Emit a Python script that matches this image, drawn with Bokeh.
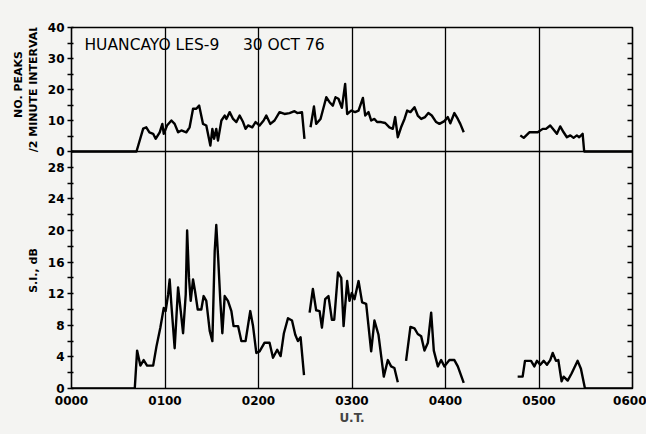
import math
from bokeh.plotting import figure
from bokeh.layouts import row
from bokeh.models import (Range1d, LinearAxis, FixedTicker, Label, Span,
                          CustomJSTickFormatter, AllLabels)
from bokeh.embed import file_html
from bokeh.resources import INLINE

# ---------------- data (time in minutes after 0000 UT) ----------------
# Top panel: number of peaks per 2 minute interval
peaks_t1 = [0, 41.7, 46, 48, 50, 52.4, 54, 56.6, 58.3, 59.2, 61.3, 64.1, 66.2, 68.4, 70.5,
            73.7, 75.8, 78, 80.1, 81.9, 84.4, 86.5, 89.1, 90.4, 91.5, 92.9, 94, 96.2, 98.3,
            99.4, 101.5, 103.7, 105.8, 107.9, 110.1, 111.7, 113.3, 116, 118.1, 120.7, 123.3,
            125, 127.6, 130.3, 133.5, 136.7, 139.9, 143.1, 144.9, 147.9, 149.5]
peaks_v1 = [0, 0, 7.4, 7.8, 6.2, 5.7, 4.1, 6.2, 8.9, 5.7, 8.4, 10, 8.9, 6.2, 6.8,
            6.2, 7.8, 13.8, 13.8, 14.8, 8.9, 8.4, 1.9, 7.3, 4.1, 7.3, 3.5, 10, 11.6,
            10.5, 12.7, 10.5, 9.5, 11.6, 9.5, 7.3, 8.4, 7.8, 9.5, 8.4, 10,
            11.6, 8.9, 10, 12.7, 12.1, 12.4, 13, 12.4, 12.7, 4.1]
peaks_t2 = [153.4, 155.6, 157, 159.8, 162.4, 163.5, 165.6, 167.7, 169.4, 171.3, 173.5, 175.6,
            176.9, 179.5, 182, 184.2, 187, 188.5, 190.6, 192.3, 194.4, 196.1, 198.7, 201.3,
            204, 206.2, 207.7, 209.4, 211.5, 213.7, 215.4, 217.5, 220.1, 222.2, 224.4, 226.9,
            229, 231.2, 234, 236.1, 239.3, 241.5, 243.1, 245.7, 247.9, 249.5, 251.7]
peaks_v2 = [7.8, 14.5, 8.9, 10.5, 15.4, 17.5, 15.9, 14.8, 17.5, 17, 14.1, 21.8,
            12.1, 13.2, 12.7, 13.2, 17.3, 11.6, 12.7, 10, 10.5, 9.5, 9.5, 9.2,
            7.8, 7.3, 11.1, 4.6, 7.8, 10.5, 13.2, 12.7, 14.3, 11.6, 10.5, 11.1,
            12.4, 11.6, 9.5, 8.9, 9.8, 11.1, 9.1, 12.4, 10.5, 8.9, 6.2]
peaks_t3 = [288, 290.2, 293.8, 299.2, 302.4, 304.5, 307.2, 309.8, 311.5, 313.6, 315.8, 317.9,
            320.1, 322.2, 324.3, 325.8, 328, 329, 360]
peaks_v3 = [5.2, 4.4, 6.2, 6.2, 7.3, 7.3, 8.4, 6.8, 5.7, 8.1, 6.2, 4.6,
            5.2, 4.4, 5.2, 4.6, 5.7, 0, 0]

# Bottom panel: S.I., dB
si_t1 = [0, 40.6, 42.1, 44.2, 46.3, 48.5, 52.4, 54.5, 57, 59.2, 60.4, 62, 63, 64.1, 66.2,
         68.4, 70.1, 71.6, 73.3, 74.2, 75.4, 76.5, 78, 79.3, 81, 83.3, 84.8, 86.5, 88.7,
         90.4, 91.9, 92.9, 94.2, 95.5, 96.8, 98.3, 100.4, 102.6, 104, 106.9, 109, 111.7,
         114.7, 116.5, 118.6, 120.7, 123.9, 127.1, 129.3, 132, 134.2, 136.3, 138.9, 141.5,
         143.6, 145.3, 147, 149.2]
si_v1 = [0, 0, 4.8, 2.9, 3.6, 2.9, 2.9, 5.3, 7.7, 10.2, 9.8, 11.9, 13.8, 10.6, 5.1,
         12.8, 9.8, 7.0, 11.9, 20, 14, 11.1, 13.8, 12.3, 10, 10, 11.7, 11.1, 7.3,
         6.0, 17.4, 20.7, 16.2, 11.1, 7.0, 11.7, 11.1, 9.8, 7.9, 7.9, 6.0, 6.0,
         9.8, 7.9, 4.5, 4.7, 5.8, 5.8, 3.9, 4.9, 4.1, 7.0, 8.9, 8.6,
         6.8, 6.0, 6.5, 1.7]
si_t2 = [152.8, 154.9, 157, 159.2, 160.7, 162.8, 164.9, 167.1, 168.6, 171, 173.1, 174.6,
         176.9, 178.4, 179.9, 181.6, 184.2, 186.5, 189.1, 192.3, 194.4, 197, 200.4, 203,
         205.1, 207.2, 209.4]
si_v2 = [9.6, 12.6, 9.9, 9.8, 7.7, 11.3, 11.7, 8.7, 8.7, 14.7, 14.0, 7.9,
         13.6, 11.1, 12.1, 11.3, 13.6, 10.9, 10.7, 4.7, 8.6, 6.8, 1.5, 3.6,
         2.8, 2.6, 0.8]
si_t3 = [214.7, 217.5, 220.1, 222.2, 224.4, 226.5, 228.7, 230.8, 232.5, 235.1, 237.2, 239.3,
         242.5, 245.7, 247.9, 251.7]
si_v3 = [3.5, 7.8, 7.6, 6.9, 6.6, 4.8, 5.8, 9.6, 4.8, 2.8, 3.6, 2.8,
         3.6, 3.6, 2.8, 0.7]
si_t4 = [286.3, 289.5, 291, 294.9, 297, 298.7, 300.8, 303, 305.1, 307.2, 308.8, 310.9,
         312.4, 314.5, 315.8, 318.4, 320.9, 324.8, 326.9, 329.5, 360]
si_v4 = [1.5, 1.5, 3.5, 3.5, 2.8, 3.5, 3.0, 3.5, 3.0, 3.6, 4.5, 3.5,
         3.6, 0.9, 1.5, 1.0, 1.9, 3.5, 2.5, 0, 0]

# axes / labels
x_ticks = [0, 60, 120, 180, 240, 300, 360]
x_tick_labels = ["0000", "0100", "0200", "0300", "0400", "0500", "0600"]
si_major = [0, 4, 8, 12, 16, 20, 24, 28]
si_minor = [2, 6, 10, 14, 18, 22, 26]
peaks_major = [0, 10, 20, 30, 40]
peaks_minor = [5, 15, 25, 35]
SI_MAX = 30
PEAKS_MAX = 40
top_ylabel_1 = "NO. PEAKS"
top_ylabel_2 = "/2 MINUTE INTERVAL"
bottom_ylabel = "S.I., dB"

# ---------------- layout ----------------
W, H = 646, 434
STRIP = 44    # width of the strip holding the rotated axis titles
B_TOP, B_BOT = 27, 46
H_TOP = 124   # px of upper panel
H_BOT = 237   # px of lower panel
Y_TOP = SI_MAX * (H_TOP + H_BOT) / H_BOT
k = (Y_TOP - SI_MAX) / PEAKS_MAX
PEAKS_LOW = PEAKS_MAX - PEAKS_MAX * (H_TOP + H_BOT) / H_TOP

BG = "#f4f4f2"
FONT = "DejaVu Sans"

p = figure(width=W - STRIP, height=H, output_backend="svg", toolbar_location=None,
           x_range=Range1d(0, 360), y_range=Range1d(0, Y_TOP),
           min_border_left=70 - STRIP, min_border_right=14, min_border_top=B_TOP,
           min_border_bottom=B_BOT)
p.extra_y_ranges = {"peaks": Range1d(PEAKS_LOW, PEAKS_MAX)}
p.background_fill_color = BG
p.border_fill_color = BG
p.outline_line_color = "black"
p.outline_line_width = 1.6

# x axis
p.xaxis.ticker = FixedTicker(ticks=x_ticks)
p.xaxis.major_label_overrides = dict(zip(x_ticks, x_tick_labels))
p.xaxis.major_tick_line_color = None
p.xaxis.minor_tick_line_color = None
p.xaxis.axis_line_color = None
p.xaxis.major_label_standoff = 1
p.xaxis.major_label_text_font = FONT
p.xaxis.major_label_text_font_style = "bold"
p.xaxis.major_label_text_font_size = "12px"
p.xaxis.major_label_text_color = "black"
p.xaxis.axis_label = "U.T."
p.xaxis.axis_label_text_font = FONT
p.xaxis.axis_label_text_font_style = "bold"
p.xaxis.axis_label_text_font_size = "12px"
p.xaxis.axis_label_standoff = 3

# left axis: lower panel ticks + upper panel ticks mapped
left_major = si_major + [SI_MAX + v * k for v in peaks_major]
left_minor = si_minor + [SI_MAX + v * k for v in peaks_minor]
p.yaxis.ticker = FixedTicker(ticks=left_major, minor_ticks=left_minor)
p.yaxis.formatter = CustomJSTickFormatter(
    args=dict(smax=SI_MAX, k=k),
    code="if (tick < smax - 0.5) { return String(Math.round(tick)); } "
         "return String(Math.round((tick - smax) / k));")
p.yaxis.major_label_policy = AllLabels()
p.yaxis.axis_line_color = None
p.yaxis.major_tick_in = 2
p.yaxis.major_tick_out = 4
p.yaxis.minor_tick_in = 2
p.yaxis.minor_tick_out = 4
p.yaxis.major_tick_line_width = 1.3
p.yaxis.minor_tick_line_width = 1.3
p.yaxis.major_label_standoff = 3
p.yaxis.major_label_text_font = FONT
p.yaxis.major_label_text_font_style = "bold"
p.yaxis.major_label_text_font_size = "12px"
p.yaxis.major_label_text_color = "black"

# right axis: inward ticks only
right_ticks = [v for v in range(2, 29, 2)] + [SI_MAX + v * k for v in range(5, 36, 5)]
ra = LinearAxis(ticker=FixedTicker(ticks=right_ticks, minor_ticks=[]),
                formatter=CustomJSTickFormatter(code="return '';"),
                axis_line_color=None, major_tick_in=5, major_tick_out=0,
                major_tick_line_width=1.3, major_label_standoff=0,
                major_label_text_font_size="1px", minor_tick_line_color=None)
p.add_layout(ra, "right")

# grids
p.xgrid.ticker = FixedTicker(ticks=[60, 120, 180, 240, 300])
p.xgrid.grid_line_color = "black"
p.xgrid.grid_line_width = 1.3
p.xgrid.grid_line_alpha = 1.0
p.ygrid.grid_line_color = None

p.add_layout(Span(location=SI_MAX, dimension="width", line_color="black", line_width=1.6))

# data lines
for t, v in [(peaks_t1, peaks_v1), (peaks_t2, peaks_v2), (peaks_t3, peaks_v3)]:
    p.line(t, v, y_range_name="peaks", line_color="black", line_width=2.4, line_join="round")
for t, v in [(si_t1, si_v1), (si_t2, si_v2), (si_t3, si_v3), (si_t4, si_v4)]:
    p.line(t, v, line_color="black", line_width=2.4, line_join="round")

# in-plot annotation
p.add_layout(Label(x=8.3, y=34.5, y_range_name="peaks", text="HUANCAYO LES-9",
                   text_font=FONT, text_font_size="15.5px", text_baseline="middle",
                   text_align="left", text_color="black"))
p.add_layout(Label(x=110, y=34.5, y_range_name="peaks", text="30 OCT 76",
                   text_font=FONT, text_font_size="15.5px", text_baseline="middle",
                   text_align="left", text_color="black"))

# strip at the left carrying the rotated axis titles; its frame is aligned with
# the main frame, so its y range is expressed in pixels from the canvas bottom
s = figure(width=STRIP, height=H, output_backend="svg", toolbar_location=None,
           x_range=Range1d(0, STRIP), y_range=Range1d(B_BOT, H - B_TOP),
           min_border_left=0, min_border_right=0, min_border_top=B_TOP,
           min_border_bottom=B_BOT)
s.axis.visible = False
s.grid.visible = False
s.outline_line_color = None
s.background_fill_color = BG
s.border_fill_color = BG
for txt, sx, sy in [(top_ylabel_1, 17.5, H - 84), (top_ylabel_2, 32.5, H - 88),
                    (bottom_ylabel, 33, H - 270)]:
    s.add_layout(Label(x=sx, y=sy, text=txt, angle=math.pi / 2, text_font=FONT,
                       text_font_size="11px", text_font_style="bold",
                       text_align="center", text_baseline="middle", text_color="black"))

layout = row(s, p, spacing=0, styles={"background-color": BG})
open("out.html", "w").write(file_html(layout, INLINE))
